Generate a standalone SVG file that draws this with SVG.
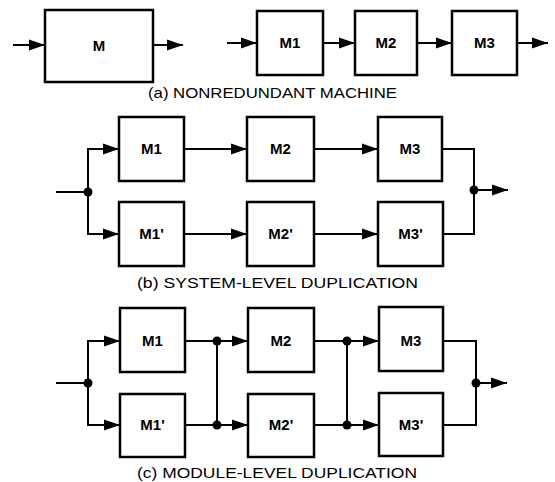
<svg xmlns="http://www.w3.org/2000/svg" width="555" height="482" viewBox="0 0 555 482">
<style>
.box{fill:#fff;stroke:#000;stroke-width:2.5}
.lbl{font-family:"Liberation Sans",Arial,sans-serif;font-size:15px;font-weight:bold;text-anchor:middle;fill:#000}
.cap{font-family:"Liberation Sans",Arial,sans-serif;font-size:15px;fill:#000}
.ln{fill:none;stroke:#000;stroke-width:2}
.arr{fill:none;stroke:#000;stroke-width:2;marker-end:url(#ah)}
.dot{fill:#000}
</style>
<defs>
<marker id="ah" markerUnits="userSpaceOnUse" markerWidth="16" markerHeight="12" refX="16" refY="6" orient="auto">
<path d="M0,0.5 L16,6 L0,11.5 Z" fill="#000"/>
</marker>
</defs>
<rect width="555" height="482" fill="#fff"/>

<g id="connectors">
<!-- (a) -->
<line class="arr" x1="13" y1="45" x2="45" y2="45"/>
<line class="arr" x1="153" y1="45" x2="183" y2="45"/>
<line class="arr" x1="227" y1="43" x2="257" y2="43"/>
<line class="arr" x1="323" y1="43" x2="355" y2="43"/>
<line class="arr" x1="417" y1="43" x2="452" y2="43"/>
<line class="arr" x1="517" y1="43" x2="548" y2="43"/>
<!-- (b) -->
<line class="ln" x1="56" y1="192" x2="88" y2="192"/>
<polyline class="ln" points="119,149 88,149 88,234 119,234"/>
<line class="arr" x1="88" y1="149" x2="119" y2="149"/>
<line class="arr" x1="88" y1="234" x2="119" y2="234"/>
<line class="arr" x1="184" y1="149" x2="247" y2="149"/>
<line class="arr" x1="184" y1="234" x2="247" y2="234"/>
<line class="arr" x1="314" y1="149" x2="378" y2="149"/>
<line class="arr" x1="314" y1="234" x2="378" y2="234"/>
<polyline class="ln" points="442,149 474,149 474,234 443,234"/>
<line class="arr" x1="474" y1="190" x2="508" y2="190"/>
<circle class="dot" cx="88" cy="192" r="4.5"/>
<circle class="dot" cx="474" cy="190" r="4.5"/>
<!-- (c) -->
<line class="ln" x1="56" y1="383" x2="88" y2="383"/>
<polyline class="ln" points="119,341 88,341 88,425 119,425"/>
<line class="arr" x1="88" y1="341" x2="120" y2="341"/>
<line class="arr" x1="88" y1="425" x2="120" y2="425"/>
<line class="arr" x1="185" y1="341" x2="248" y2="341"/>
<line class="arr" x1="185" y1="425" x2="248" y2="425"/>
<line class="ln" x1="217" y1="341" x2="217" y2="425"/>
<circle class="dot" cx="217" cy="341" r="4.5"/>
<circle class="dot" cx="217" cy="425" r="4.5"/>
<line class="arr" x1="314" y1="341" x2="379" y2="341"/>
<line class="arr" x1="314" y1="425" x2="379" y2="425"/>
<line class="ln" x1="347" y1="341" x2="347" y2="425"/>
<circle class="dot" cx="347" cy="341" r="4.5"/>
<circle class="dot" cx="347" cy="425" r="4.5"/>
<polyline class="ln" points="443,341 476,341 476,425 443,425"/>
<line class="arr" x1="476" y1="383" x2="507" y2="383"/>
<circle class="dot" cx="88" cy="383" r="4.5"/>
<circle class="dot" cx="476" cy="383" r="4.5"/>
</g>

<g id="a-M"><rect class="box" x="45" y="10" width="108" height="72"/><text class="lbl" x="99" y="51">M</text></g>
<g id="a-M1"><rect class="box" x="257" y="11" width="66" height="64"/><text class="lbl" x="290" y="48">M1</text></g>
<g id="a-M2"><rect class="box" x="355" y="11" width="62" height="64"/><text class="lbl" x="386" y="48">M2</text></g>
<g id="a-M3"><rect class="box" x="452" y="11" width="65" height="64"/><text class="lbl" x="484.5" y="48">M3</text></g>

<g id="b-M1"><rect class="box" x="119" y="117" width="65" height="64"/><text class="lbl" x="151.5" y="154">M1</text></g>
<g id="b-M1p"><rect class="box" x="119" y="202" width="65" height="64"/><text class="lbl" x="151.5" y="239">M1'</text></g>
<g id="b-M2"><rect class="box" x="247" y="117" width="67" height="64"/><text class="lbl" x="280.5" y="154">M2</text></g>
<g id="b-M2p"><rect class="box" x="247" y="202" width="67" height="64"/><text class="lbl" x="280.5" y="239">M2'</text></g>
<g id="b-M3"><rect class="box" x="378" y="117" width="64" height="64"/><text class="lbl" x="410" y="154">M3</text></g>
<g id="b-M3p"><rect class="box" x="378" y="202" width="65" height="64"/><text class="lbl" x="410.5" y="239">M3'</text></g>

<g id="c-M1"><rect class="box" x="120" y="308" width="65" height="64"/><text class="lbl" x="152.5" y="346">M1</text></g>
<g id="c-M1p"><rect class="box" x="120" y="394" width="65" height="63"/><text class="lbl" x="152.5" y="430">M1'</text></g>
<g id="c-M2"><rect class="box" x="248" y="308" width="66" height="64"/><text class="lbl" x="281" y="346">M2</text></g>
<g id="c-M2p"><rect class="box" x="248" y="394" width="66" height="63"/><text class="lbl" x="281" y="430">M2'</text></g>
<g id="c-M3"><rect class="box" x="379" y="307" width="64" height="64"/><text class="lbl" x="411" y="346">M3</text></g>
<g id="c-M3p"><rect class="box" x="379" y="393" width="64" height="63"/><text class="lbl" x="411" y="430">M3'</text></g>

<text class="cap" x="148" y="98" textLength="249" lengthAdjust="spacingAndGlyphs">(a) NONREDUNDANT MACHINE</text>
<text class="cap" x="137" y="288" textLength="281" lengthAdjust="spacingAndGlyphs">(b) SYSTEM-LEVEL DUPLICATION</text>
<text class="cap" x="137" y="478" textLength="280" lengthAdjust="spacingAndGlyphs">(c) MODULE-LEVEL DUPLICATION</text>
</svg>
